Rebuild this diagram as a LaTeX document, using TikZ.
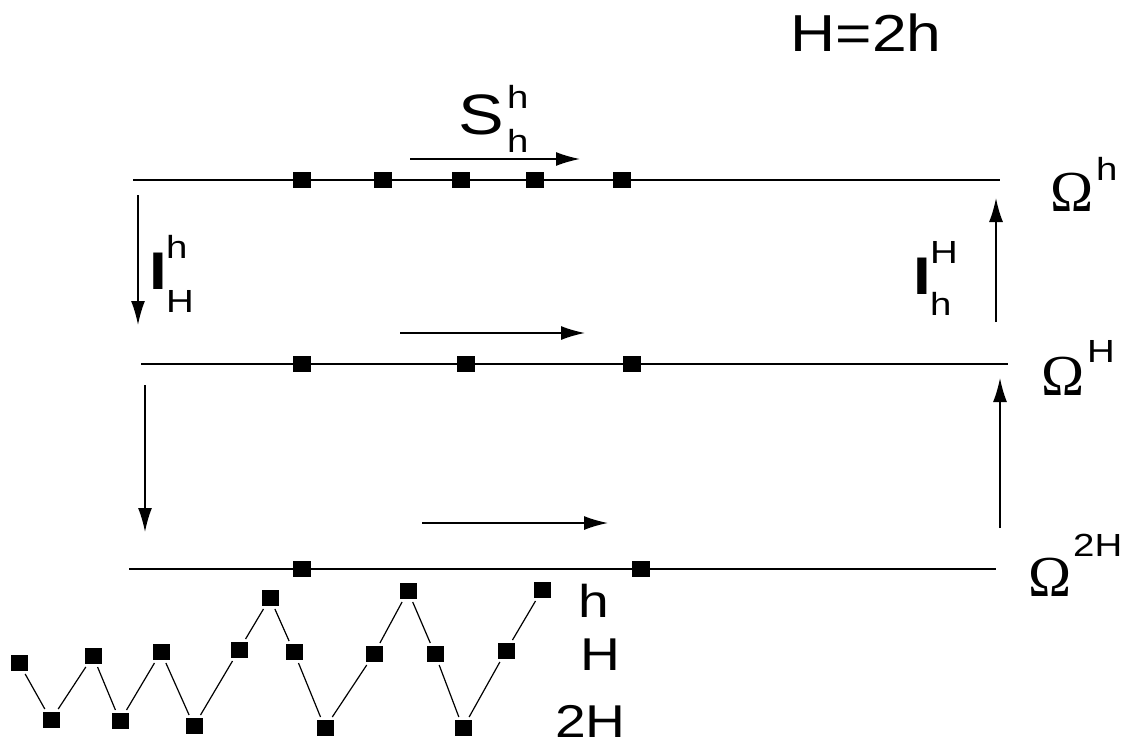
\documentclass[tikz,border=0pt]{standalone}
\usepackage{fontspec}
\setmainfont[FakeStretch=1.2]{Liberation Sans}
\newfontfamily\omegafont{Liberation Serif}
\usetikzlibrary{arrows.meta}

\tikzset{
	gridpt/.style={fill=black, minimum width=18pt, minimum height=16pt, inner sep=0pt},
	zzpt/.style={fill=black, minimum width=17pt, minimum height=16pt, inner sep=0pt, outer sep=3pt},
	level/.style={line width=1.6pt},
	map/.style={line width=1.6pt, -{Latex[length=24pt,width=14pt]}},
	big/.style={font=\fontsize{53}{53}\selectfont, inner sep=0pt, anchor=base west},
	small/.style={font=\fontsize{32}{32}\selectfont, inner sep=0pt, anchor=base west},
	mid/.style={font=\fontsize{46}{46}\selectfont, inner sep=0pt, anchor=base west},
	omega/.style={font=\omegafont\fontsize{58}{58}\selectfont, inner sep=0pt, anchor=base west}
}

\begin{document}
\begin{tikzpicture}[x=1pt,y=-1pt]
		\useasboundingbox (0,0) rectangle (1127,745);
		\node[font=\fontsize{52}{52}\selectfont, inner sep=0pt] (title) at (866,33) {H=2h};
		% the three grids
		\draw[level] (133,180) to (1000,180);
		\draw[level] (141,364) to (1008,364);
		\draw[level] (129,569) to (996,569);
		\foreach \x [count=\i] in {302,383,461,535,622} \node[gridpt] (a\i) at (\x,180) {};
		\foreach \x [count=\i] in {302,466,632} \node[gridpt] (b\i) at (\x,364) {};
		\foreach \x [count=\i] in {302,641} \node[gridpt] (c\i) at (\x,569) {};
		\node[omega] (om1) at (1050,211) {Ω};
		\node[small] (om1s) at (1096,180) {h};
		\node[omega] (om2) at (1041,395) {Ω};
		\node[small] (om2s) at (1087,362) {H};
		\node[omega] (om3) at (1028,596) {Ω};
		\node[small] (om3s) at (1073,556) {2H};
		% smoothing
		\coordinate (s1) at (410,159); \coordinate (s2) at (580,159);
		\coordinate (s3) at (400,333); \coordinate (s4) at (585,333);
		\coordinate (s5) at (422,523); \coordinate (s6) at (608,523);
		\draw[map] (s1) to (s2);
		\draw[map] (s3) to (s4);
		\draw[map] (s5) to (s6);
		\node[big, font=\fontsize{57}{57}\selectfont] (S) at (458,134) {S};
		\node[small] (Ssup) at (507,108) {h};
		\node[small] (Ssub) at (507,152) {h};
		% restriction and prolongation
		\coordinate (r1) at (138,195); \coordinate (r2) at (138,325);
		\coordinate (r3) at (145,385); \coordinate (r4) at (145,532);
		\coordinate (p1) at (996,322); \coordinate (p2) at (996,198);
		\coordinate (p3) at (1000,528); \coordinate (p4) at (1000,378);
		\draw[map] (r1) to (r2);
		\draw[map] (r3) to (r4);
		\draw[map] (p1) to (p2);
		\draw[map] (p3) to (p4);
		\node[big] (R) at (149,289) {\bfseries I};
		\node[small] (Rsup) at (166,258) {h};
		\node[small] (Rsub) at (166,312) {H};
		\node[big] (P) at (913,294) {\bfseries I};
		\node[small] (Psup) at (930,263) {H};
		\node[small] (Psub) at (930,315) {h};
		% the three levels of points
		\foreach \x/\y [count=\i] in {19/663,51/720,93/656,120/721,161/652,194/726,239/650,270/598,294/652,325/728,374/654,408/591,435/654,463/728,506/651,542/590}
			\node[zzpt] (z\i) at (\x,\y) {};
		\foreach \i [evaluate=\i as \j using int(\i+1)] in {1,...,15}
			\draw[line width=1.2pt] (z\i) to (z\j);
		\node[mid] (lh) at (578,617) {h};
		\node[mid] (lH) at (580,670) {H};
		\node[mid] (l2H) at (555,737) {2H};
\end{tikzpicture}
\end{document}
